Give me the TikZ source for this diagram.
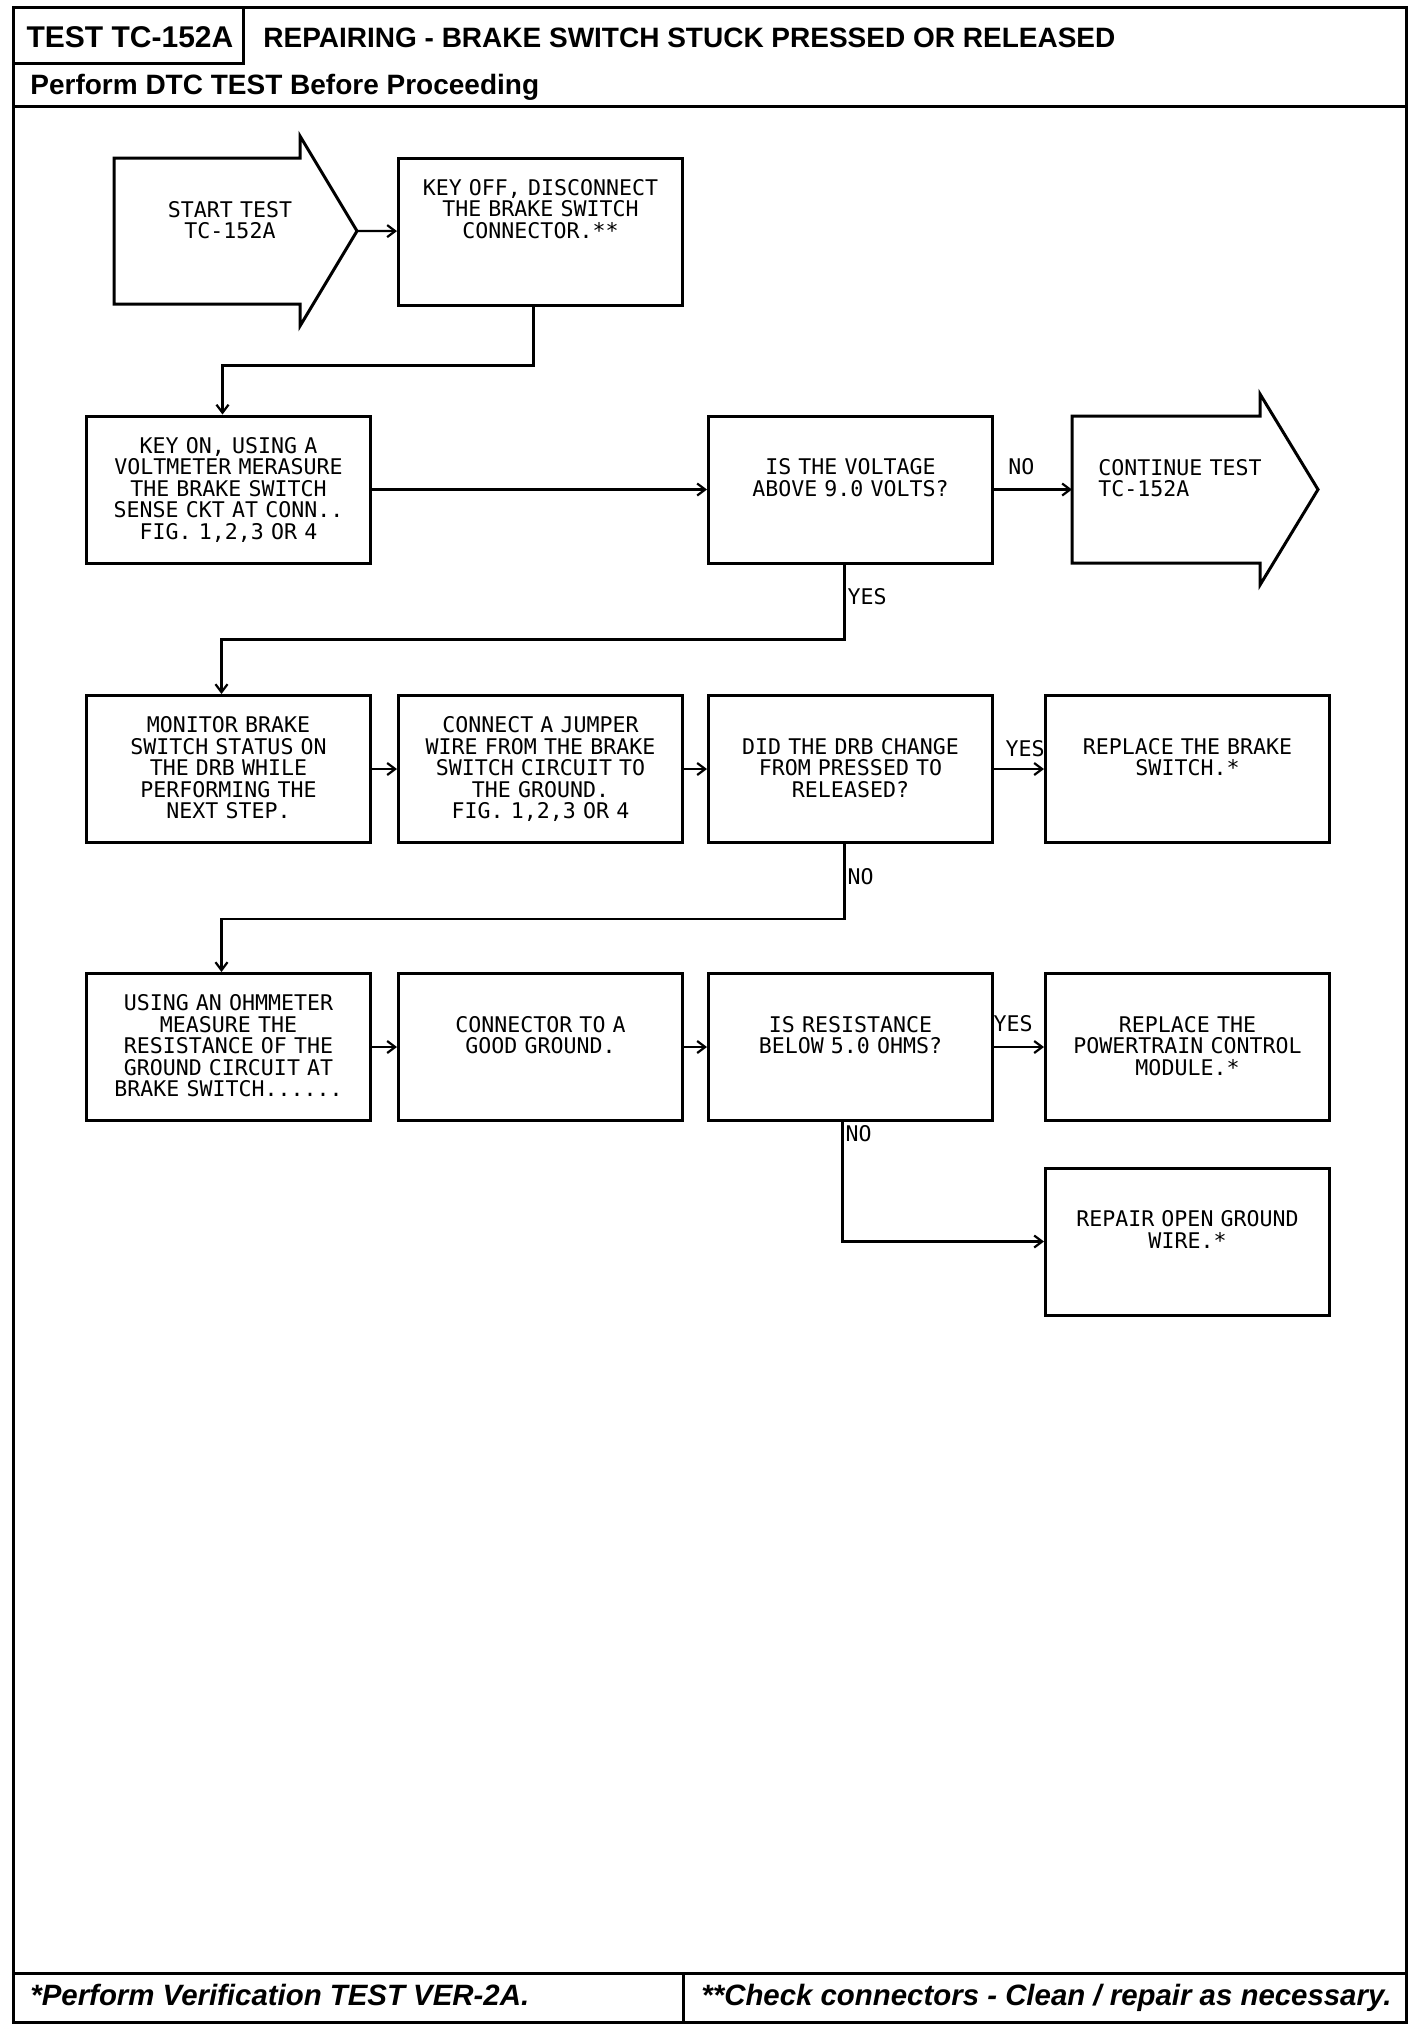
\documentclass[tikz,border=0pt]{standalone}
\usepackage{fontspec}
\setmainfont{Liberation Sans}
\newfontfamily\plotfont{DejaVu Sans Mono}
\usetikzlibrary{arrows.meta}
\newcommand{\flowfont}{\plotfont\fontsize{10.8}{10.8}\selectfont}
\newcommand{\hdrfont}{\bfseries\fontsize{14}{16}\selectfont}
\newcommand{\ftrfont}{\bfseries\itshape\fontsize{14.7}{17}\selectfont}

\tikzset{
  stepbox/.style={draw, line width=1.5pt, minimum width=142pt, minimum height=73.5pt,
    inner sep=4pt, text width=134pt, align=center, font=\flowfont,
    text height=14.5pt, text depth=51pt},
  lowtext/.style={text height=25.3pt, text depth=40.2pt},
  arrowtext/.style={inner sep=4pt, text width=120pt, font=\flowfont,
    text height=25.3pt, text depth=20pt},
  arrowline/.style={line width=1.5pt, line join=miter},
  flow/.style={line width=1.1pt, -{Straight Barb[length=4pt,width=6pt]}},
  flowlabel/.style={font=\flowfont, inner sep=1pt},
  frame/.style={line width=1.5pt},
}

\begin{document}
\begin{tikzpicture}[x=0.5pt, y=-0.5pt]
  \useasboundingbox (0,0) rectangle (1424,2030);
  \fill[white] (0,0) rectangle (1424,2030);

  % frame, header and footer
  \draw[frame] (13,7) rectangle (1406,2022);
  \draw[frame] (13,63) -- (243,63) -- (243,7);
  \draw[frame] (13,106) -- (1406,106);
  \draw[frame] (13,1973) -- (1406,1973);
  \draw[frame] (683,1973) -- (683,2022);
  \node[font=\bfseries\fontsize{15}{18}\selectfont, anchor=base, inner sep=0pt] (testid) at (130,47) {TEST TC-152A};
  \node[font=\hdrfont, anchor=base west, inner sep=0pt] (title) at (263,47) {REPAIRING - BRAKE SWITCH STUCK PRESSED OR RELEASED};
  \node[font=\hdrfont, anchor=base west, inner sep=0pt] (dtc) at (30,94) {Perform DTC TEST Before Proceeding};
  \node[font=\ftrfont, anchor=base west, inner sep=0pt] (verify) at (30,2005) {*Perform Verification TEST VER-2A.};
  \node[font=\ftrfont, anchor=base west, inner sep=0pt] (checkconn) at (701,2005) {**Check connectors - Clean / repair as necessary.};

  % start and continue arrows
  \draw[arrowline] (300,158) -- (114,158) -- (114,304) -- (300,304) -- (300,326)
    -- (357,231) coordinate (starttip) -- (300,136) -- cycle;
  \node[arrowtext, anchor=north, align=center] (start) at (230,158) {START TEST\\TC-152A};
  \coordinate (contback) at (1072,489.5);
  \draw[arrowline] (1260,416) -- (1072,416) -- (1072,563) -- (1260,563) -- (1260,585)
    -- (1318,489.5) -- (1260,394) -- cycle;
  \node[arrowtext, anchor=north west, align=left] (cont) at (1090,416) {CONTINUE TEST\\TC-152A};

  % steps
  \node[stepbox] (keyoff) at (540.5,231.5) {KEY OFF, DISCONNECT\\THE BRAKE SWITCH\\CONNECTOR.**};
  \node[stepbox] (keyon) at (228.5,489.5) {KEY ON, USING A\\VOLTMETER MERASURE\\THE BRAKE SWITCH\\SENSE CKT AT CONN..\\FIG. 1,2,3 OR 4};
  \node[stepbox, lowtext] (volts) at (850.5,489.5) {IS THE VOLTAGE\\ABOVE 9.0 VOLTS?};

  \node[stepbox] (monitor) at (228.5,769) {MONITOR BRAKE\\SWITCH STATUS ON\\THE DRB WHILE\\PERFORMING THE\\NEXT STEP.};
  \node[stepbox] (jumper) at (540.5,769) {CONNECT A JUMPER\\WIRE FROM THE BRAKE\\SWITCH CIRCUIT TO\\THE GROUND.\\FIG. 1,2,3 OR 4};
  \node[stepbox, lowtext] (changed) at (850.5,769) {DID THE DRB CHANGE\\FROM PRESSED TO\\RELEASED?};
  \node[stepbox, lowtext] (brakesw) at (1187.5,769) {REPLACE THE BRAKE\\SWITCH.*};

  \node[stepbox] (ohms) at (228.5,1047) {USING AN OHMMETER\\MEASURE THE\\RESISTANCE OF THE\\GROUND CIRCUIT AT\\BRAKE SWITCH......};
  \node[stepbox, lowtext] (gndconn) at (540.5,1047) {CONNECTOR TO A\\GOOD GROUND.};
  \node[stepbox, lowtext] (below5) at (850.5,1047) {IS RESISTANCE\\BELOW 5.0 OHMS?};
  \node[stepbox, lowtext] (pcm) at (1187.5,1047) {REPLACE THE\\POWERTRAIN CONTROL\\MODULE.*};
  \node[stepbox, lowtext] (repair) at (1187.5,1241.5) {REPAIR OPEN GROUND\\WIRE.*};

  % connectors
  \draw[flow] (starttip) -- (keyoff);
  \draw[flow] ([xshift=-3.5pt]keyoff.south) -- ++(0,59) -| ([xshift=-3pt]keyon.north);
  \draw[flow] (keyon) -- (volts);
  \draw[flow] (volts) -- node[flowlabel, pos=0.35, yshift=11.5pt] (nolab1) {NO} (contback);
  \draw[flow] ([xshift=-3pt]volts.south) -- node[flowlabel, right, pos=0.43] (yeslab1) {YES} ++(0,75) -| ([xshift=-3.5pt]monitor.north);
  \draw[flow] (monitor) -- (jumper);
  \draw[flow] (jumper) -- (changed);
  \draw[flow] (changed) -- node[flowlabel, pos=0.62, yshift=10pt] (yeslab2) {YES} (brakesw);
  \draw[flow] ([xshift=-3pt]changed.south) -- node[flowlabel, right, pos=0.43] (nolab2) {NO} ++(0,75) -| ([xshift=-3.5pt]ohms.north);
  \draw[flow] (ohms) -- (gndconn);
  \draw[flow] (gndconn) -- (below5);
  \draw[flow] (below5) -- node[flowlabel, pos=0.38, yshift=11.5pt] (yeslab3) {YES} (pcm);
  \draw[flow] ([xshift=-4pt]below5.south) |- node[flowlabel, anchor=north west, pos=0] (nolab3) {NO} (repair.west);
\end{tikzpicture}
\end{document}
